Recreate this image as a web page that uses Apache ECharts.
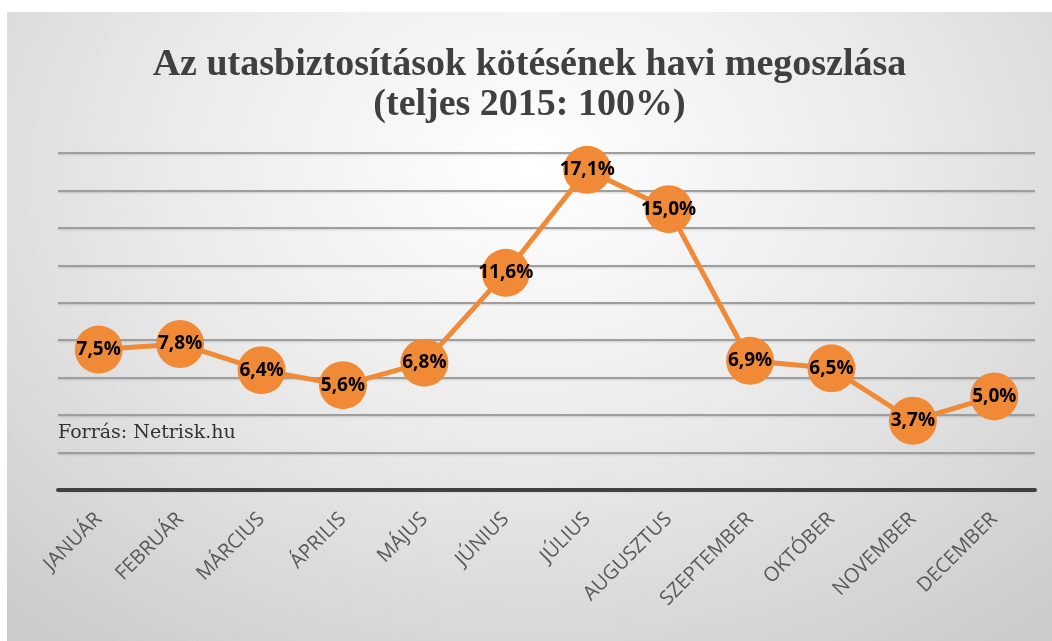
<!DOCTYPE html>
<html>
<head>
<meta charset="utf-8">
<script src="https://cdn.jsdelivr.net/npm/echarts@6/dist/echarts.min.js"></script>
<style>
	html, body { margin: 0; padding: 0; background: #ffffff; }
	#chart {
		position: absolute; left: 7px; top: 12px; width: 1045px; height: 629px;
		background: radial-gradient(ellipse 75% 95% at 50% 25%, #ffffff 0%, #ebebeb 45%, #cbcbcb 100%);
	}
</style>
</head>
<body>
<div id="chart"></div>
<script>
var months = ['JANUÁR', 'FEBRUÁR', 'MÁRCIUS', 'ÁPRILIS', 'MÁJUS', 'JÚNIUS', 'JÚLIUS', 'AUGUSZTUS', 'SZEPTEMBER', 'OKTÓBER', 'NOVEMBER', 'DECEMBER'];
var shares = [7.5, 7.8, 6.4, 5.6, 6.8, 11.6, 17.1, 15.0, 6.9, 6.5, 3.7, 5.0];
var titleLines = ['Az utasbiztosítások kötésének havi megoszlása', '(teljes 2015: 100%)'];
var sourceText = 'Forrás: Netrisk.hu';

window.onload = function() {
	var chart = echarts.init(document.getElementById('chart'));
	var option = {
		animation: false,
		title: {
			text: titleLines.join('\n'),
			left: 'center',
			top: 28,
			textStyle: {
				fontFamily: 'Liberation Serif',
				fontWeight: 'bold',
				fontSize: 38,
				lineHeight: 40,
				color: '#404040'
			}
		},
		graphic: [{
			type: 'text',
			left: 51,
			top: 412,
			style: {
				text: sourceText,
				fontFamily: 'DejaVu Serif',
				fontSize: 19,
				fill: '#333333'
			}
		}],
		grid: {
			left: 51,
			right: 17,
			top: 141,
			bottom: 151
		},
		xAxis: {
			type: 'category',
			data: months,
			axisLine: { show: true, lineStyle: { color: '#404040', width: 4 } },
			axisTick: { show: false },
			axisLabel: {
				rotate: 45,
				margin: 26,
				fontFamily: 'Open Sans',
				fontSize: 20,
				color: '#595959'
			}
		},
		yAxis: {
			type: 'value',
			min: 0,
			max: 18,
			interval: 2,
			axisLine: { show: false },
			axisTick: { show: false },
			axisLabel: { show: false },
			splitLine: {
				lineStyle: {
					color: '#9e9e9e',
					width: 2,
					shadowColor: 'rgba(0,0,0,0.15)',
					shadowBlur: 2,
					shadowOffsetY: 1
				}
			}
		},
		series: [{
			type: 'line',
			data: shares,
			symbol: 'circle',
			symbolSize: 48,
			itemStyle: { color: '#F08A37' },
			lineStyle: { color: '#F08A37', width: 5 },
			label: {
				show: true,
				position: 'inside',
				fontFamily: 'Open Sans',
				fontWeight: 'bold',
				fontSize: 19,
				color: '#000000',
				formatter: function(p) {
					return p.value.toFixed(1).replace('.', ',') + '%';
				}
			}
		}]
	};
	chart.setOption(option);
};
</script>
</body>
</html>
